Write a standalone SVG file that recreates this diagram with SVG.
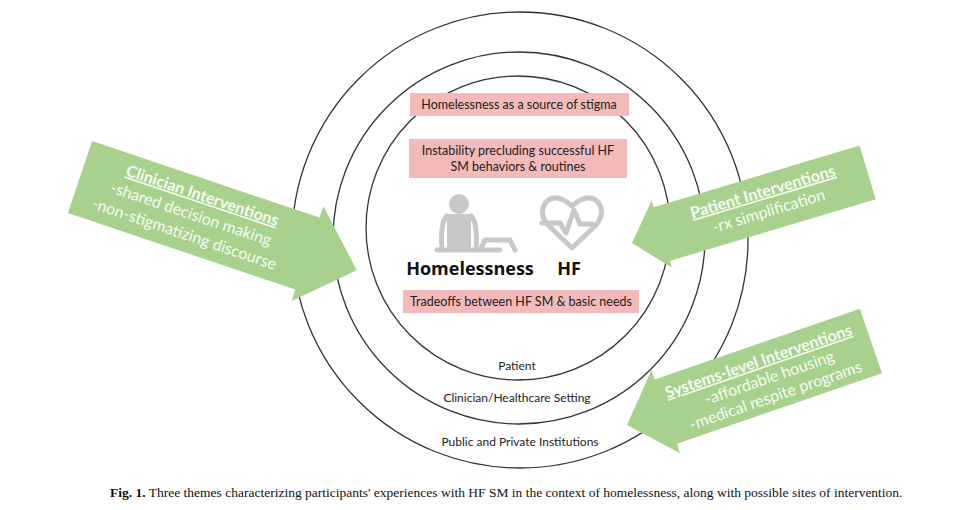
<svg xmlns="http://www.w3.org/2000/svg" width="968" height="510" viewBox="0 0 968 510">
<style>
.ring{fill:none;stroke:#333;stroke-width:1.3}
.box{fill:#f4b9b9}
.bt{font-family:Lato,"Open Sans",sans-serif;font-size:12.5px;fill:#222;text-anchor:middle}
.lab{font-family:Lato,"Open Sans",sans-serif;font-size:12px;fill:#222;text-anchor:middle}
.arr{fill:#a9d18e}
.at{font-family:Lato,"Open Sans",sans-serif;font-size:16px;fill:#fff;fill-opacity:0.92;text-anchor:middle}
.ah{font-weight:bold;text-decoration:underline}
.big{font-family:"Open Sans",sans-serif;font-weight:bold;font-size:18px;fill:#111;text-anchor:middle}
.icon{fill:none;stroke:#c8c8c8;stroke-width:5;stroke-linecap:round;stroke-linejoin:round}
</style>
<rect width="968" height="510" fill="#fff"/>
<g id="rings">
<circle class="ring" cx="520" cy="240" r="228"/>
<circle class="ring" cx="519" cy="238" r="186"/>
<circle class="ring" cx="518" cy="228" r="152"/>
<text class="lab" x="517" y="370">Patient</text>
<text class="lab" x="517" y="402">Clinician/Healthcare Setting</text>
<text class="lab" x="520" y="446">Public and Private Institutions</text>
</g>
<g id="theme1"><rect class="box" x="410" y="93" width="219" height="23"/><text class="bt" x="519" y="109">Homelessness as a source of stigma</text></g>
<g id="theme2"><rect class="box" x="409" y="139" width="218" height="39"/><text class="bt" x="518" y="155">Instability precluding successful HF</text><text class="bt" x="518" y="171">SM behaviors &amp; routines</text></g>
<g id="theme3"><rect class="box" x="403" y="290" width="236" height="23"/><text class="bt" x="521" y="306">Tradeoffs between HF SM &amp; basic needs</text></g>
<g id="center">
<circle cx="459" cy="204" r="10" fill="#c8c8c8"/>
<path d="M447 218 Q447 214 451 214 L467 214 Q471 214 471 218 L471 250 L447 250 Z" fill="#c8c8c8"/>
<path d="M447 216 Q440 222 442 250 M471 216 Q478 222 476 250" class="icon" stroke-width="3"/>
<path d="M437 250 L500 250 M480 250 L485 240 L510 240 L515 250" class="icon" stroke-width="3"/>
<path d="M572 248 L548 225 Q538 213 546 202 Q556 192 572 206 Q588 192 598 202 Q606 213 596 225 Z" class="icon"/>
<path d="M542 223 L560 223 L566 233 L574 210 L580 224 L592 224" class="icon" stroke-width="4"/>
<text class="big" x="470" y="275">Homelessness</text>
<text class="big" x="569" y="275">HF</text>
</g>
<g id="connectors">
<g id="clinician" transform="translate(80,177) rotate(18.6)">
<polygon class="arr" points="0,-38 240,-38 240,-50 292,0 240,50 240,38 0,38"/>
<text class="at" x="122" y="-16"><tspan class="ah">Clinician Interventions</tspan></text>
<text class="at" x="117" y="5">-shared decision making</text>
<text class="at" x="117" y="26">-non-stigmatizing discourse</text>
</g>
<g id="patient" transform="translate(632,243) rotate(-16.7)">
<polygon class="arr" points="0,0 31,-35 31,-28 246,-28 246,28 31,28 31,35"/>
<text class="at" x="140" y="-6"><tspan class="ah">Patient Interventions</tspan></text>
<text class="at" x="140" y="14">-rx simplification</text>
</g>
<g id="systems" transform="translate(627,425) rotate(-19)">
<polygon class="arr" points="0,0 41,-44 41,-34 258,-34 258,34 41,34 41,44"/>
<text class="at" x="145" y="-12" font-size="15px"><tspan class="ah">Systems-level Interventions</tspan></text>
<text class="at" x="150" y="7" font-size="15px">-affordable housing</text>
<text class="at" x="150" y="26" font-size="15px">-medical respite programs</text>
</g>
</g>
<text x="110" y="497" font-family="Liberation Serif,serif" font-size="13.5px" fill="#111"><tspan font-weight="bold">Fig. 1.</tspan>  Three themes characterizing participants' experiences with HF SM in the context of homelessness, along with possible sites of intervention.</text>
</svg>
